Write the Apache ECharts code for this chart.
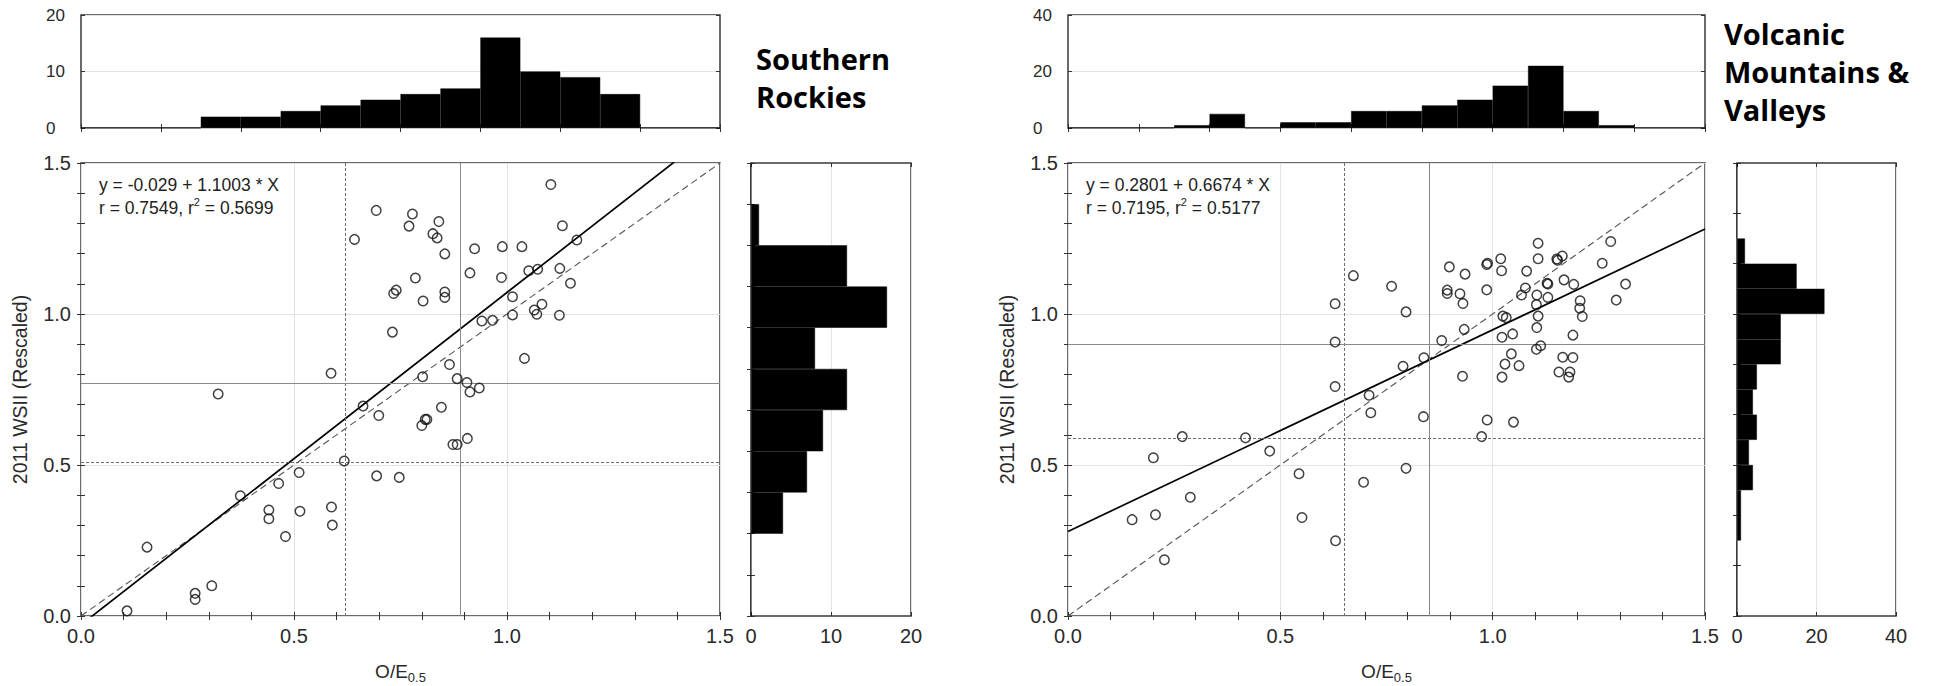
<!DOCTYPE html>
<html>
<head>
<meta charset="utf-8">
<script src="https://cdn.jsdelivr.net/npm/echarts@6.0.0/dist/echarts.min.js"></script>
<style>
html,body{margin:0;padding:0;background:#fff;}
#chart{width:1934px;height:686px;}
</style>
</head>
<body>
<div id="chart"></div>
<script>
// ---------------- DATA ----------------
// Southern Rockies: scatter of O/E0.5 (x) vs 2011 WSII rescaled (y)
const srPoints = [
  [1.103,1.429],[0.693,1.343],[0.778,1.331],[0.770,1.291],[0.840,1.306],[0.826,1.266],[0.836,1.252],
  [0.642,1.247],[0.854,1.199],[0.924,1.216],[0.989,1.223],[1.035,1.223],[1.130,1.292],[1.164,1.245],
  [0.913,1.136],[0.987,1.121],[0.785,1.119],[1.051,1.143],[1.072,1.148],[1.124,1.151],[1.149,1.102],
  [0.734,1.068],[0.740,1.079],[0.854,1.073],[0.854,1.055],[0.803,1.043],[1.013,1.057],[1.013,0.997],
  [1.064,1.013],[1.070,0.999],[1.082,1.032],[1.123,0.996],[0.941,0.977],[0.966,0.979],[0.731,0.940],
  [1.041,0.853],[0.865,0.833],[0.587,0.804],[0.802,0.792],[0.883,0.786],[0.906,0.773],[0.913,0.742],
  [0.935,0.755],[0.322,0.735],[0.662,0.695],[0.846,0.691],[0.699,0.664],[0.808,0.651],[0.812,0.651],
  [0.800,0.631],[0.873,0.568],[0.883,0.568],[0.907,0.588],[0.618,0.513],[0.512,0.475],[0.464,0.439],
  [0.694,0.464],[0.747,0.459],[0.374,0.398],[0.441,0.351],[0.441,0.322],[0.514,0.347],[0.588,0.361],
  [0.590,0.301],[0.480,0.263],[0.155,0.228],[0.307,0.100],[0.268,0.075],[0.268,0.055],[0.108,0.017]
];
// Volcanic Mountains & Valleys
const vmPoints = [
  [1.107,1.234],[1.278,1.240],[0.898,1.156],[0.988,1.168],[0.986,1.164],[1.019,1.183],[0.935,1.132],
  [1.021,1.143],[1.107,1.183],[1.151,1.182],[1.153,1.178],[1.164,1.192],[1.258,1.168],[1.080,1.142],
  [0.893,1.079],[0.893,1.068],[0.923,1.067],[0.930,1.035],[0.986,1.080],[1.077,1.086],[1.068,1.063],
  [1.128,1.102],[1.130,1.099],[1.168,1.113],[1.191,1.098],[1.313,1.099],[1.291,1.046],[1.104,1.063],
  [1.130,1.055],[1.103,1.031],[1.206,1.044],[1.205,1.019],[1.211,0.992],[1.024,0.993],[1.032,0.988],
  [1.107,0.993],[1.104,0.955],[0.933,0.949],[0.880,0.912],[1.022,0.923],[1.047,0.934],[1.189,0.930],
  [0.838,0.855],[1.044,0.868],[1.103,0.883],[1.113,0.895],[1.029,0.834],[1.062,0.829],[1.165,0.857],
  [1.189,0.856],[1.156,0.808],[1.182,0.808],[1.179,0.791],[0.929,0.794],[1.022,0.791],[0.837,0.660],
  [0.987,0.649],[1.049,0.642],[0.672,1.127],[0.762,1.092],[0.629,1.034],[0.796,1.007],[0.629,0.907],
  [0.789,0.827],[0.629,0.760],[0.709,0.731],[0.713,0.673],[0.974,0.594],[0.269,0.594],[0.418,0.590],
  [0.475,0.546],[0.201,0.524],[0.544,0.471],[0.796,0.489],[0.696,0.443],[0.288,0.393],[0.206,0.335],
  [0.151,0.319],[0.551,0.326],[0.630,0.249],[0.227,0.186]
];
// marginal histogram counts (top: along O/E, left to right; side: along WSII, bottom to top)
const srTopCounts  = [0,0,0,2,2,3,4,5,6,7,16,10,9,6,0,0];
const srSideCounts = [0,0,4,7,9,12,8,17,12,1,0];
const vmTopCounts  = [0,0,0,1,5,0,2,2,6,6,8,10,15,22,6,1,0,0];
const vmSideCounts = [0,0,0,1,1,4,3,5,4,5,11,11,22,15,2,0,0,0];
// regression fits [intercept, slope] and statistics
const srFit = [-0.029, 1.1003];
const vmFit = [0.2801, 0.6674];
const srStats = ['0.7549', '0.5699'];
const vmStats = ['0.7195', '0.5177'];
// reference lines [dotted, solid]
const srRefX = [0.616, 0.892];
const srRefY = [0.510, 0.769];
const vmRefX = [0.652, 0.854];
const vmRefY = [0.588, 0.901];
// axis ticks
const scatterTicks = [0, 0.5, 1.0, 1.5];
const srTopTicks = [0, 10, 20];
const srSideTicks = [0, 10, 20];
const vmTopTicks = [0, 20, 40];
const vmSideTicks = [0, 20, 40];
// text
const xName = 'O/E';
const xSub = '0.5';
const yName = '2011 WSII (Rescaled)';
const srTitle = ['Southern', 'Rockies'];
const vmTitle = ['Volcanic', 'Mountains &', 'Valleys'];

// ---------------- BUILD ----------------
const FONT = '"Liberation Sans", Arial, sans-serif';
const TXT = '#2a2a2a';
const grids = [], xAxes = [], yAxes = [], series = [], graphics = [];
const gridStyle = {show:true, borderColor:'#3a3a3a', borderWidth:1.5, backgroundColor:'rgba(0,0,0,0)', containLabel:false, outerBoundsMode:'none'};
const tickStyle = {color:'#333', width:1};

function binNames(n){ const a=[]; for(let i=0;i<n;i++) a.push('b'+i); return a; }

function vAxis(gridIndex, position, ticks, extra){
  return Object.assign({
    type:'value', gridIndex, position,
    min: ticks[0], max: ticks[ticks.length-1], interval: ticks[1]-ticks[0],
    axisLine:{show:false},
    axisTick:{show:true, inside:true, length:4, lineStyle:tickStyle},
    splitLine:{show:false},
    axisLabel:{show:false}
  }, extra || {});
}
function cAxis(gridIndex, position, n, every){
  return {
    type:'category', gridIndex, position, data: binNames(n), boundaryGap:true,
    axisLine:{show:false}, axisLabel:{show:false}, splitLine:{show:false},
    axisTick:{show:true, inside:true, length:4, interval: every-1, alignWithLabel:false, lineStyle:tickStyle}
  };
}

function panel(P){
  const g = grids.length;
  grids.push(Object.assign({left:P.sx, top:163, width:P.sw, height:453}, gridStyle));
  grids.push(Object.assign({left:P.sx, top:15, width:P.sw, height:113}, gridStyle));
  grids.push(Object.assign({left:P.hx, top:163, width:P.hw, height:453}, gridStyle));
  const xi = xAxes.length, yi = yAxes.length;
  const minor = {show:true, splitNumber:5, length:4, lineStyle:tickStyle};
  const split = {show:true, lineStyle:{color:'#e2e2e2', width:1}};
  const lab = {show:true, fontSize:20, fontFamily:FONT, color:TXT, margin:10};
  // scatter axes
  xAxes.push(vAxis(g, 'bottom', scatterTicks, {
    minorTick:minor, splitLine:split,
    axisLabel:Object.assign({}, lab, {formatter:v=>v.toFixed(1)}),
    name:'{m|'+xName+'}{s|'+xSub+'}', nameLocation:'middle', nameGap:42,
    nameTextStyle:{rich:{
      m:{fontSize:19, fontFamily:FONT, color:TXT, lineHeight:26},
      s:{fontSize:13, fontFamily:FONT, color:TXT, verticalAlign:'bottom'}
    }}
  }));
  xAxes.push(vAxis(g, 'top', scatterTicks, {minorTick:minor}));
  yAxes.push(vAxis(g, 'left', scatterTicks, {
    minorTick:minor, splitLine:split,
    axisLabel:Object.assign({}, lab, {formatter:v=>v.toFixed(1)}),
    name:yName, nameLocation:'middle', nameGap:51,
    nameTextStyle:{fontSize:19.5, fontFamily:FONT, color:TXT}
  }));
  yAxes.push(vAxis(g, 'right', scatterTicks, {minorTick:minor}));
  // top histogram axes
  xAxes.push(cAxis(g+1, 'bottom', P.top.length, 2));
  xAxes.push(cAxis(g+1, 'top', P.top.length, 2));
  yAxes.push(vAxis(g+1, 'left', P.topTicks, {
    splitLine:split,
    axisLabel:{show:true, fontSize:17, fontFamily:FONT, color:TXT, align:'left', margin:35}
  }));
  yAxes.push(vAxis(g+1, 'right', P.topTicks));
  // side histogram axes
  xAxes.push(vAxis(g+2, 'bottom', P.sideTicks, {splitLine:split, axisLabel:lab}));
  xAxes.push(vAxis(g+2, 'top', P.sideTicks));
  yAxes.push(cAxis(g+2, 'left', P.side.length, P.sideEvery));
  yAxes.push(cAxis(g+2, 'right', P.side.length, P.sideEvery));

  const refDot = {type:[3,2], color:'#6e6e6e', width:1};
  const refSol = {type:'solid', color:'#8a8a8a', width:1};
  // identity line
  series.push({type:'line', xAxisIndex:xi, yAxisIndex:yi, data:[[scatterTicks[0],scatterTicks[0]],[scatterTicks[3],scatterTicks[3]]],
    symbol:'none', clip:true, silent:true, z:3, lineStyle:{color:'#555', width:1.1, type:[7,4]},
    markLine:{silent:true, symbol:'none', label:{show:false}, animation:false,
      data:[
        {xAxis:P.refX[0], lineStyle:refDot},
        {xAxis:P.refX[1], lineStyle:refSol},
        {yAxis:P.refY[0], lineStyle:refDot},
        {yAxis:P.refY[1], lineStyle:refSol}
      ]}
  });
  // regression line
  const b = P.fit[0], m = P.fit[1];
  series.push({type:'line', xAxisIndex:xi, yAxisIndex:yi, data:[[0,b],[1.5,b+1.5*m]],
    symbol:'none', clip:true, silent:true, z:4, lineStyle:{color:'#000', width:1.7}});
  // points
  series.push({type:'scatter', xAxisIndex:xi, yAxisIndex:yi, data:P.points, symbol:'circle', symbolSize:9.5,
    silent:true, z:5, itemStyle:{color:'rgba(0,0,0,0)', borderColor:'#111', borderWidth:1.5}});
  // histograms
  const barStyle = {color:'#000', borderColor:'#000', borderWidth:0.5};
  series.push({type:'bar', xAxisIndex:xi+2, yAxisIndex:yi+2, data:P.top, barCategoryGap:'0%', silent:true, itemStyle:barStyle});
  series.push({type:'bar', xAxisIndex:xi+4, yAxisIndex:yi+4, data:P.side, barCategoryGap:'0%', silent:true, itemStyle:barStyle});

  // equation text
  const eq = 'y = ' + String(b) + ' + ' + String(m) + ' * X';
  graphics.push({type:'text', left:P.sx+18, top:176, silent:true,
    style:{text:'{a|'+eq+'}\n{a|r = '+P.stats[0]+', r}{s|2}{a| = '+P.stats[1]+'}',
      rich:{
        a:{fontSize:17.5, fontFamily:FONT, fill:'#222', lineHeight:23},
        s:{fontSize:11, fontFamily:FONT, fill:'#222', verticalAlign:'top', lineHeight:12}
      }}});
  // panel title
  graphics.push({type:'text', left:P.tx, top:P.ty, silent:true,
    style:{text:P.title.join('\n'), fontSize:29, fontWeight:'bold', fontFamily:'"Open Sans", "Noto Sans", sans-serif',
      lineHeight:38, fill:'#000'}});
}

panel({sx:81, sw:639, hx:751, hw:160, points:srPoints, top:srTopCounts, side:srSideCounts, sideEvery:1,
  topTicks:srTopTicks, sideTicks:srSideTicks, fit:srFit, stats:srStats, refX:srRefX, refY:srRefY,
  title:srTitle, tx:756, ty:39});
panel({sx:1068, sw:637, hx:1737, hw:159, points:vmPoints, top:vmTopCounts, side:vmSideCounts, sideEvery:2,
  topTicks:vmTopTicks, sideTicks:vmSideTicks, fit:vmFit, stats:vmStats, refX:vmRefX, refY:vmRefY,
  title:vmTitle, tx:1724, ty:14});

const chart = echarts.init(document.getElementById('chart'), null, {renderer:'svg'});
chart.setOption({
  animation:false,
  backgroundColor:'#fff',
  grid:grids, xAxis:xAxes, yAxis:yAxes, series:series, graphic:graphics
});
</script>
</body>
</html>
